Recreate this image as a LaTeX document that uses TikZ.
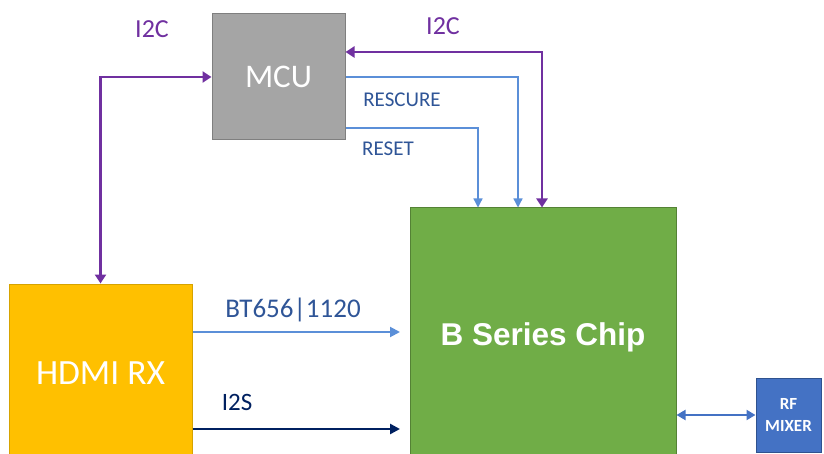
\documentclass[tikz,border=0pt]{standalone}
\usepackage{fontspec}
\setmainfont{Carlito}
\newfontfamily\arialb{Liberation Sans}
\usetikzlibrary{arrows.meta}
\definecolor{mcugray}{HTML}{A5A5A5}
\definecolor{mcuborder}{HTML}{7F7F7F}
\definecolor{hdmiyel}{HTML}{FFC000}
\definecolor{hdmiborder}{HTML}{D6A300}
\definecolor{chipgreen}{HTML}{70AD47}
\definecolor{chipborder}{HTML}{548235}
\definecolor{rfblue}{HTML}{4472C4}
\definecolor{rfborder}{HTML}{2F528F}
\definecolor{sigpurple}{HTML}{7030A0}
\definecolor{sigblue}{HTML}{5B8FD8}
\definecolor{labblue}{HTML}{2F5597}
\definecolor{navy}{HTML}{002060}
\tikzset{
  blk/.style={draw, line width=1pt, inner sep=0pt, text=white},
  i2cline/.style={draw=sigpurple, line width=2.6pt, {Triangle[width=11pt,length=9pt]}-{Triangle[width=11pt,length=9pt]}},
  ctlline/.style={draw=sigblue, line width=1.3pt, -{Triangle[width=9pt,length=9pt]}},
  lab/.style={inner sep=0pt, anchor=base},
}
\begin{document}
\begin{tikzpicture}[x=1pt,y=-1pt]
\useasboundingbox (0,0) rectangle (824,454);
\clip (0,0) rectangle (824,454);
\node[blk, fill=mcugray, draw=mcuborder, minimum width=133pt, minimum height=126pt, font=\fontsize{33}{36}\selectfont] (mcu) at (278.5,77) {MCU};
\node[blk, fill=hdmiyel, draw=hdmiborder, minimum width=183pt, minimum height=178pt, font=\fontsize{35.5}{38}\selectfont] (hdmi) at (100.5,373) {HDMI RX};
\node[blk, fill=chipgreen, draw=chipborder, minimum width=266pt, minimum height=258pt, font=\arialb\bfseries\fontsize{31.5}{34}\selectfont] (chip) at (543,337) {B Series Chip};
\node[blk, fill=rfblue, draw=rfborder, minimum width=65pt, minimum height=74pt, align=center, font=\bfseries\fontsize{17}{22}\selectfont] (rf) at (788.5,415) {RF\\MIXER};
% I2C links
\draw[i2cline] (mcu.west) -| (hdmi.north);
\draw[i2cline] (mcu.east |- 0,52) -| (chip.north -| 542,0);
% control lines
\draw[ctlline] (mcu.east) -| (chip.north -| 518,0);
\draw[ctlline] (mcu.east |- 0,128) -| (chip.north -| 478,0);
% data lines
\draw[draw=sigblue, line width=2pt, -{Triangle[width=10pt,length=10pt]}] (hdmi.east |- 0,332) -- (400,332) coordinate (bt);
\draw[draw=navy, line width=2.6pt, -{Triangle[width=10pt,length=10pt]}] (hdmi.east |- 0,429) -- (400,429) coordinate (i2s);
\draw[draw=rfblue, line width=2pt, {Triangle[width=10pt,length=9pt]}-{Triangle[width=10pt,length=9pt]}] (chip.east |- rf.west) -- (rf.west);
% labels
\node[lab, text=sigpurple, font=\fontsize{26}{30}\selectfont] (l1) at (152,38) {I2C};
\node[lab, text=sigpurple, font=\fontsize{26}{30}\selectfont] (l2) at (443,35) {I2C};
\node[lab, text=labblue, font=\fontsize{21}{24}\selectfont] (l3) at (402,106.5) {RESCURE};
\node[lab, text=labblue, font=\fontsize{21}{24}\selectfont] (l4) at (388,156) {RESET};
\node[lab, text=labblue, font=\fontsize{27}{30}\selectfont] (l5) at (293,317.5) {BT656|1120};
\node[lab, text=navy, font=\fontsize{25}{30}\selectfont] (l6) at (237,410) {I2S};
\end{tikzpicture}
\end{document}
